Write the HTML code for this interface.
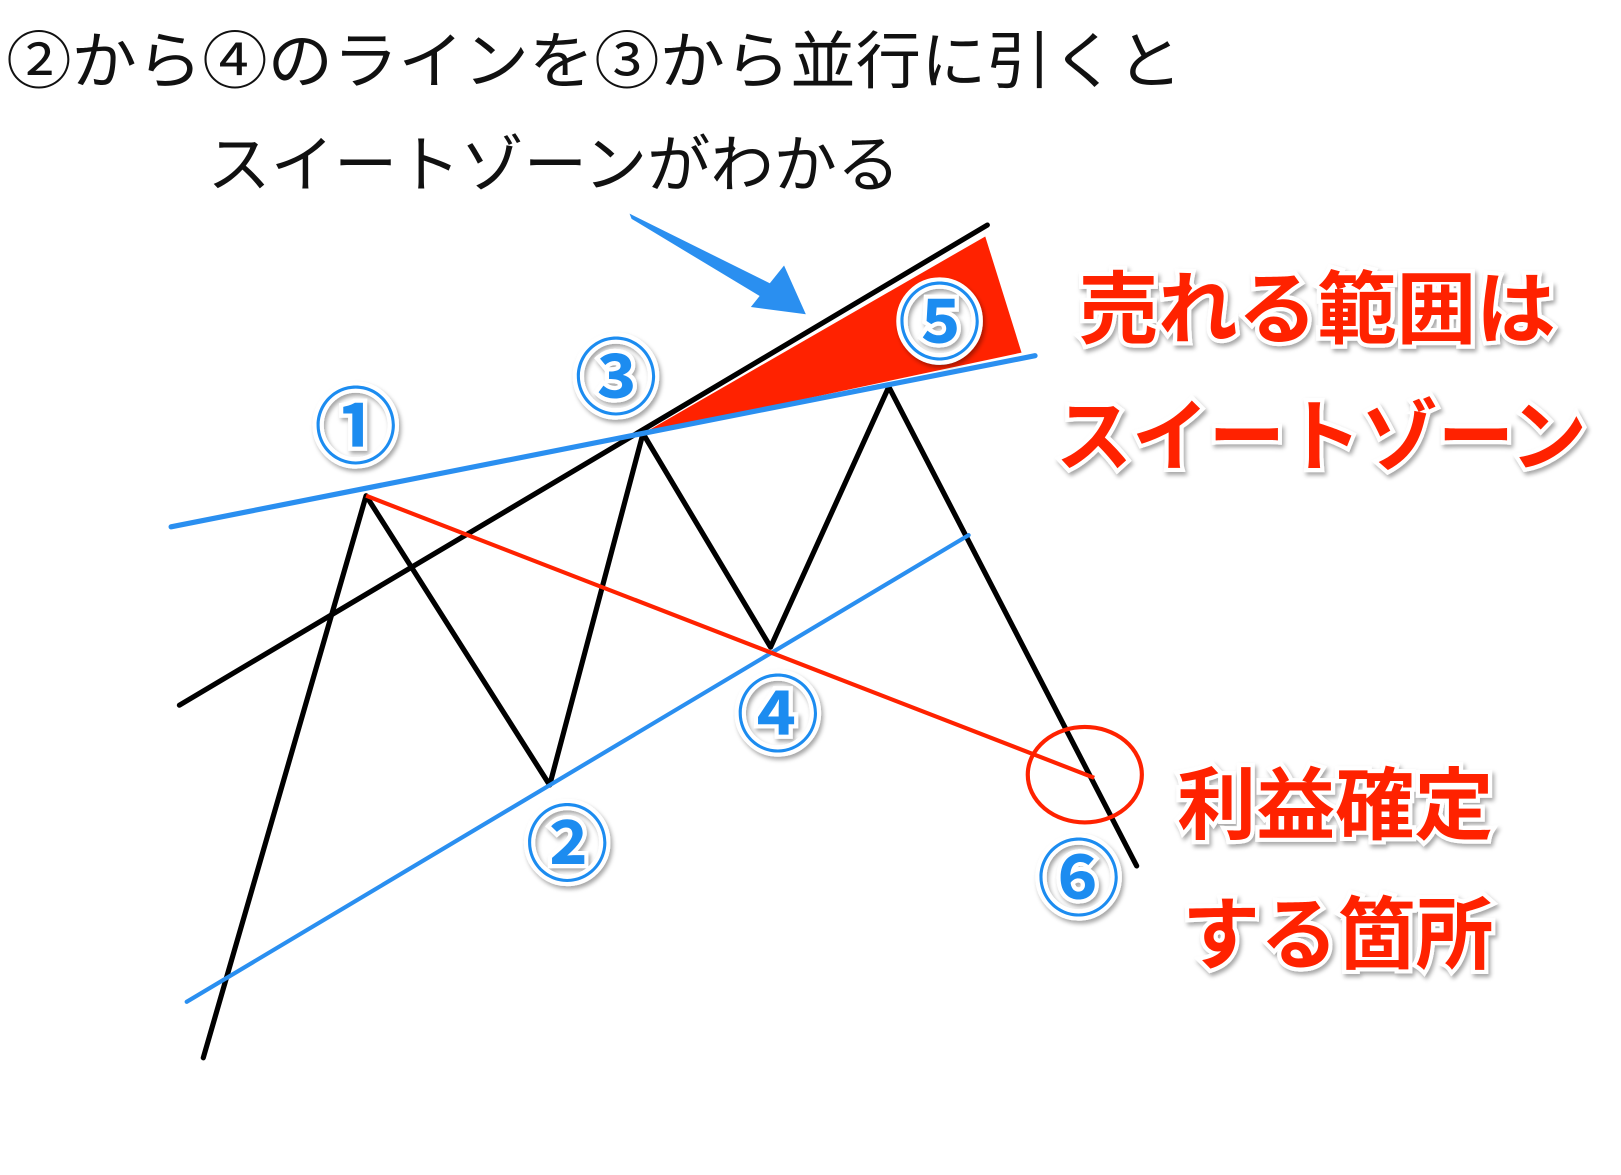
<!DOCTYPE html>
<html><head><meta charset="utf-8"><style>
html,body{margin:0;padding:0;background:#fff;width:1621px;height:1175px;overflow:hidden}
svg{display:block}
.jp{font-family:"Liberation Sans","Noto Sans CJK JP",sans-serif}
</style></head><body>
<svg width="1621" height="1175" viewBox="0 0 1563 1133" preserveAspectRatio="none" xmlns="http://www.w3.org/2000/svg">
<defs>
<filter id="sh" x="-20%" y="-20%" width="140%" height="140%"><feDropShadow dx="2" dy="3" stdDeviation="2" flood-color="#000" flood-opacity="0.35"/></filter>
</defs>
<text class="jp" x="6" y="80" font-size="60" fill="#111" textLength="1134" lengthAdjust="spacingAndGlyphs">②から④のラインを③から並行に引くと</text>
<text class="jp" x="200" y="180" font-size="60" fill="#111" textLength="668" lengthAdjust="spacingAndGlyphs">スイートゾーンがわかる</text>

<!-- red wedge -->
<polygon points="620,418 950,228 985,340" fill="#ff2200"/>
<!-- black lines -->
<line x1="173" y1="680" x2="952" y2="217" stroke="#000" stroke-width="5" stroke-linecap="round"/>
<polyline points="196,1020 353,478 530,757 620,418 743,624 857,373 1096,835" fill="none" stroke="#000" stroke-width="5" stroke-linejoin="round" stroke-linecap="round"/>
<!-- blue lines -->
<line x1="165" y1="508" x2="998" y2="343" stroke="#2a8ff0" stroke-width="5" stroke-linecap="round"/>
<line x1="180" y1="966" x2="934" y2="516" stroke="#2a8ff0" stroke-width="4" stroke-linecap="round"/>
<!-- red line & circle -->
<line x1="353" y1="478" x2="1055" y2="750" stroke="#ff2200" stroke-width="4"/>
<ellipse cx="1046" cy="747" rx="55" ry="46" fill="none" stroke="#ff2200" stroke-width="4"/>
<!-- blue arrow -->
<polygon points="607,206 609,211 740,290 748,276" fill="#2a8ff0"/>
<polygon points="777,303 724,296 756,256" fill="#2a8ff0"/>

<circle cx="906" cy="312" r="40" fill="#fff"/>
<!-- circled numbers -->
<g class="jp" font-size="80" font-weight="bold" fill="#1e8cf0" stroke="#fff" stroke-width="8" paint-order="stroke" text-anchor="middle" filter="url(#sh)">
<text x="343" y="440">①</text>
<text x="594" y="393">③</text>
<text x="906" y="340">⑤</text>
<text x="750" y="718">④</text>
<text x="547" y="843">②</text>
<text x="1040" y="876">⑥</text>
</g>

<!-- red labels -->
<g class="jp" font-size="76" font-weight="bold" fill="#ff2200" stroke="#fff" stroke-width="8" paint-order="stroke" filter="url(#sh)">
<text x="1040" y="325" textLength="460" lengthAdjust="spacingAndGlyphs">売れる範囲は</text>
<text x="1018" y="448" textLength="512" lengthAdjust="spacingAndGlyphs">スイートゾーン</text>
<text x="1135" y="803" textLength="305" lengthAdjust="spacingAndGlyphs">利益確定</text>
<text x="1140" y="928" textLength="300" lengthAdjust="spacingAndGlyphs">する箇所</text>
</g>
</svg>
</body></html>
